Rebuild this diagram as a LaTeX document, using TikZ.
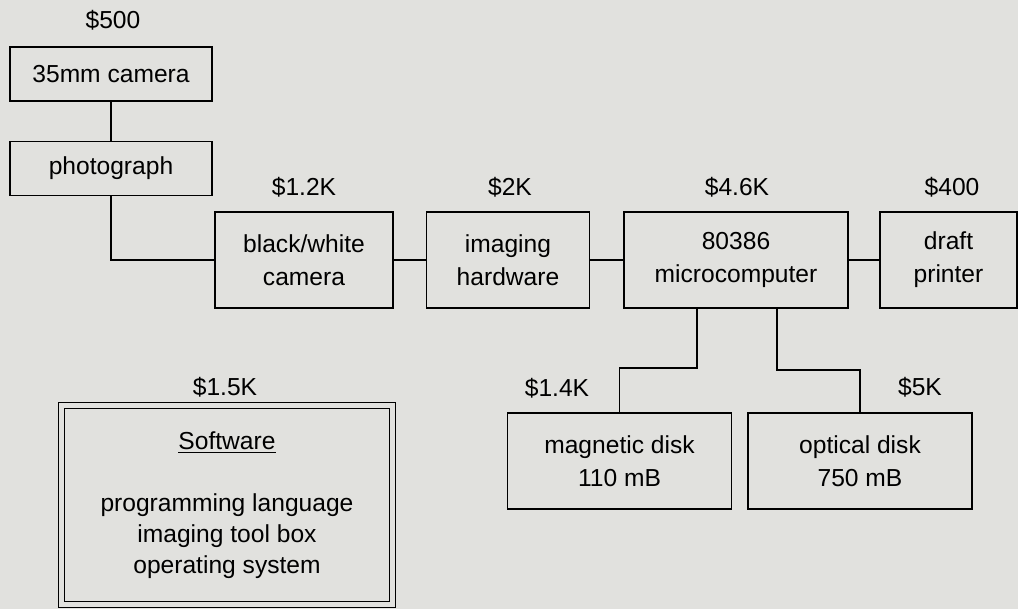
\documentclass[tikz,border=0pt]{standalone}
\usepackage{fontspec}
\setmainfont{Liberation Sans}
\definecolor{bgpaper}{RGB}{225,225,222}

\begin{document}
\begin{tikzpicture}[x=0.02cm, y=-0.02cm, box/.style={draw, line width=0.9pt, align=center, inner sep=0pt, minimum height=1.92cm, font=\fontsize{14}{18.7}\selectfont}, cost/.style={font=\fontsize{14}{17}\selectfont}, wire/.style={line width=0.9pt}]

\useasboundingbox[fill=bgpaper] (0,0) rectangle (1018,609);

\node[box, minimum width=4.04cm, minimum height=1.08cm] (cam35) at (111,74) {35mm camera};
\node[box, minimum width=4.04cm, minimum height=1.08cm] (photo) at (111,168.5) {photograph};
\node[box, minimum width=3.56cm] (bwcam) at (304,260) {black/white\\camera};
\node[box, minimum width=3.26cm] (imghw) at (508,260) {imaging\\hardware};
\node[box, minimum width=4.48cm] (micro) at (736,260) {80386\\microcomputer};
\node[box, minimum width=2.74cm] (printer) at (948.5,260) {draft\\printer};
\node[box, minimum width=4.48cm] (mag) at (619.5,461) {magnetic disk\\110 mB};
\node[box, minimum width=4.48cm] (opt) at (860,461) {optical disk\\750 mB};
\node[box, double=bgpaper, double distance=2.6pt, line width=0.8pt, minimum width=6.63cm, minimum height=3.99cm, font=\fontsize{14}{17.6}\selectfont] (soft) at (227,505) {\underline{Software}\\[18pt]programming language\\imaging tool box\\operating system};

\node[cost] (c500) at (113,20) {\$500};
\node[cost] (c12k) at (304,187) {\$1.2K};
\node[cost] (c2k) at (510,187) {\$2K};
\node[cost] (c46k) at (737,187) {\$4.6K};
\node[cost] (c400) at (952,187) {\$400};
\node[cost] (c14k) at (557,388) {\$1.4K};
\node[cost] (c5k) at (920,387) {\$5K};
\node[cost] (c15k) at (225,387) {\$1.5K};

\coordinate (magdrop) at (697,368);
\coordinate (optdrop) at (777,370);

\draw[wire] (cam35) -- (photo);
\draw[wire] (photo.south) |- (bwcam.west);
\draw[wire] (bwcam.east) -- (imghw.west);
\draw[wire] (imghw.east) -- (micro.west);
\draw[wire] (micro.east) -- (printer.west);
\draw[wire] (micro.south -| magdrop) -- (magdrop) -| (mag.north);
\draw[wire] (micro.south -| optdrop) -- (optdrop) -| (opt.north);
\end{tikzpicture}
\end{document}
